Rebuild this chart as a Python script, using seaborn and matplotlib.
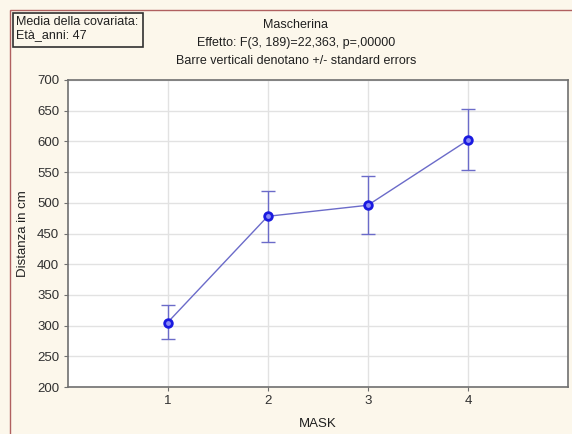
import matplotlib
matplotlib.use("Agg")
import matplotlib.pyplot as plt
import seaborn as sns
import pandas as pd
from matplotlib.patches import Rectangle

sns.set_theme(style="whitegrid")
plt.rcParams['font.family'] = ['Liberation Sans', 'DejaVu Sans']

# data
mask = [1, 2, 3, 4]
distanza = [305, 478, 496, 602]
err_low = [278, 436, 449, 553]
err_high = [333, 519, 544, 653]

df = pd.DataFrame({'MASK': mask, 'Distanza': distanza})

bg = '#FCF7EB'
line_col = '#6B6BC9'

fig = plt.figure(figsize=(5.72, 4.34), dpi=100, facecolor=bg)
ax = fig.add_axes([67.5/572, 1 - 387/434, (568-67.5)/572, (387-80)/434])
ax.set_facecolor('white')

yerr = [[d - l for d, l in zip(distanza, err_low)],
        [h - d for d, h in zip(distanza, err_high)]]
ax.errorbar(mask, distanza, yerr=yerr, fmt='none', ecolor=line_col,
            elinewidth=1, capsize=5, capthick=1, zorder=2)
sns.lineplot(data=df, x='MASK', y='Distanza', ax=ax, color=line_col,
             linewidth=1, marker='o', markersize=5.5, markerfacecolor='#8C8CF5',
             markeredgecolor='#1A1AE0', markeredgewidth=2, zorder=3)

ax.set_xlim(0, 5)
ax.set_ylim(200, 700)
ax.set_xticks(mask)
ax.set_yticks(range(200, 701, 50))
ax.grid(True, color='#E2E2E2', linewidth=1)
for s in ax.spines.values():
    s.set_color('#707070')
    s.set_linewidth(1.2)
ax.tick_params(axis='both', labelsize=9.5, colors='#707070', length=3,
               width=0.8, direction='out', labelcolor='#303030', pad=3)
ax.tick_params(bottom=True, left=True)
ax.set_xlabel('MASK', fontsize=9.5, color='#202020', labelpad=8)
ax.set_ylabel('Distanza in cm', fontsize=9.5, color='#202020', labelpad=6)

fig.text(296/572, 1 - 25.5/434, 'Mascherina', ha='center', va='center',
         fontsize=9, color='#202020')
fig.text(296/572, 1 - 43/434, 'Effetto: F(3, 189)=22,363, p=,00000',
         ha='center', va='center', fontsize=9, color='#202020')
fig.text(296/572, 1 - 60.5/434, 'Barre verticali denotano +/- standard errors',
         ha='center', va='center', fontsize=9, color='#202020')

fig.text(16/572, 1 - 22/434, 'Media della covariata:', ha='left', va='center',
         fontsize=9, color='#202020')
fig.text(16/572, 1 - 35/434, 'Età_anni: 47', ha='left', va='center',
         fontsize=9, color='#202020')
fig.patches.append(Rectangle((12.5/572, 1 - 46.5/434), 130.5/572, 34/434,
                             transform=fig.transFigure, fill=False,
                             edgecolor='#303030', linewidth=1.2))
fig.patches.append(Rectangle((10/572, -0.05), 1.2, 1 - 9.5/434 + 0.05,
                             transform=fig.transFigure, fill=False,
                             edgecolor='#B06060', linewidth=1))

fig.savefig('out.png', dpi=100, facecolor=bg)
